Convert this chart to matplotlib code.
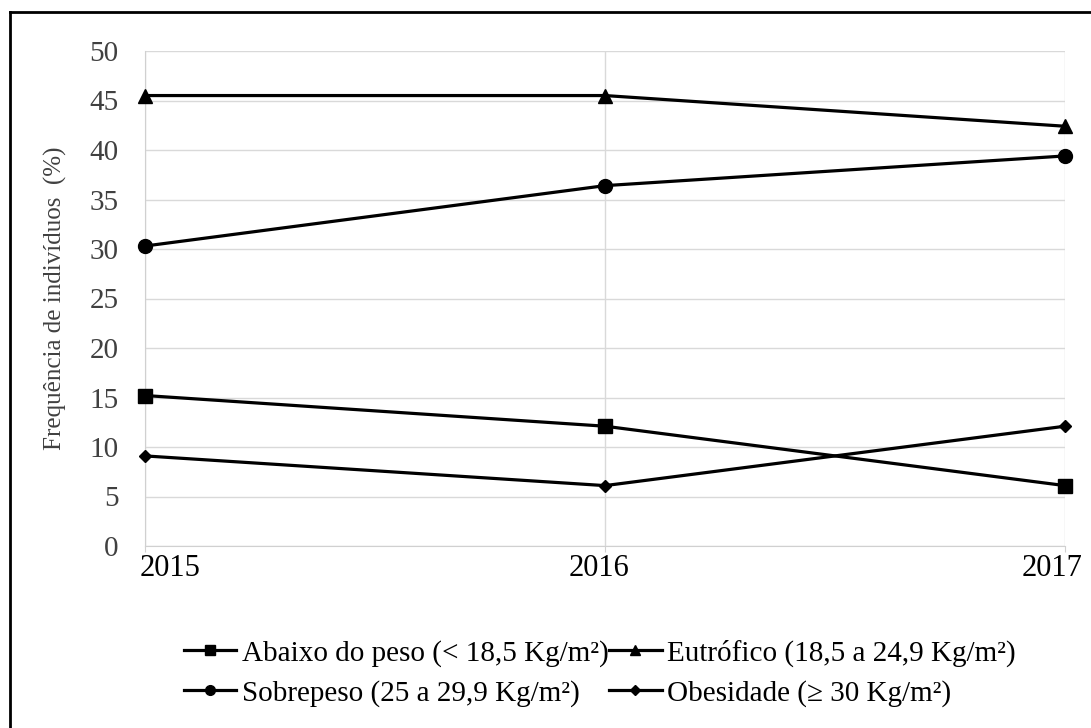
import matplotlib
matplotlib.use("Agg")
import matplotlib.pyplot as plt
from matplotlib.lines import Line2D
from matplotlib.transforms import ScaledTranslation

years = ["2015", "2016", "2017"]
abaixo = [15.2, 12.1, 6.1]
eutrofico = [45.5, 45.5, 42.4]
sobrepeso = [30.3, 36.4, 39.4]
obesidade = [9.1, 6.1, 12.1]

labels = ["Abaixo do peso (< 18,5 Kg/m²)", "Eutrófico (18,5 a 24,9 Kg/m²)",
          "Sobrepeso (25 a 29,9 Kg/m²)", "Obesidade (≥ 30 Kg/m²)"]
series = [abaixo, eutrofico, sobrepeso, obesidade]
markers = [("s", 10), ("^", 10), ("o", 10), ("D", 6)]

plt.rcParams["font.family"] = ["Liberation Serif", "DejaVu Serif"]

fig = plt.figure(figsize=(10.91, 7.28), dpi=100)
ax = fig.add_axes([145 / 1091, 1 - 546 / 728, 920 / 1091, 495 / 728])

x = list(range(len(years)))
for vals, (m, ms) in zip(series, markers):
    ax.plot(x, vals, color="black", lw=2.3, marker=m, markersize=ms,
            clip_on=False, zorder=3)

ax.set_xlim(0, 2)
ax.set_ylim(0, 50)
ax.set_yticks(range(0, 51, 5))
ax.set_xticks(x)
ax.set_xticklabels(years, fontsize=22)
ax.tick_params(axis="y", length=0, labelsize=21, labelcolor="#404040", pad=19)
ax.tick_params(axis="x", length=4, color="#d0d0d0", pad=2, labelcolor="black")
# Excel-like shifting of the end labels so they stay inside the frame
shifts = [25, -6, -13]
for lab, dx in zip(ax.get_xticklabels(), shifts):
    lab.set_transform(lab.get_transform()
                      + ScaledTranslation(dx / 100, 0, fig.dpi_scale_trans))
ax.grid(True, color="#d9d9d9", lw=1)
ax.set_axisbelow(True)
for s in ["top", "right"]:
    ax.spines[s].set_visible(False)
for s in ["left", "bottom"]:
    ax.spines[s].set_color("#d0d0d0")
ax.set_ylabel("Frequência de indivíduos  (%)", fontsize=18, color="#404040")
ax.yaxis.set_label_coords(-78 / 920, 0.5)

leg_ms = [7, 7, 7, 5]
handles = [Line2D([], [], color="black", lw=2.3, marker=m, markersize=lm)
           for (m, _), lm in zip(markers, leg_ms)]
# column-wise fill -> reorder so rows read: abaixo, eutrofico / sobrepeso, obesidade
order = [0, 2, 1, 3]
fig.legend([handles[i] for i in order], [labels[i] for i in order],
           loc="center", ncol=2, frameon=False, fontsize=21,
           bbox_to_anchor=(600 / 1091, 1 - 673 / 728), handlelength=1.8,
           handletextpad=0.2, columnspacing=0.0, labelspacing=0.45,
           borderpad=0)

# outer frame (left and top only visible)
fig.add_artist(Line2D([10 / 1091, 10 / 1091], [0, 1 - 12 / 728],
                      transform=fig.transFigure, color="black", lw=2))
fig.add_artist(Line2D([10 / 1091, 1], [1 - 12 / 728, 1 - 12 / 728],
                      transform=fig.transFigure, color="black", lw=2))

fig.savefig("out.png", dpi=100)
